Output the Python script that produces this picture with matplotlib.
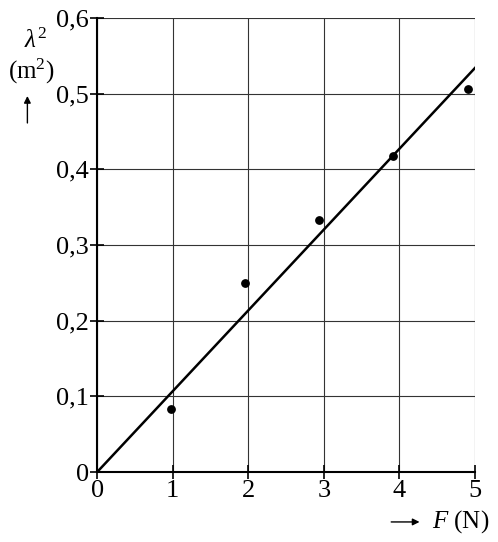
import matplotlib.pyplot as plt
import numpy as np

plt.rcParams["font.family"] = "serif"
plt.rcParams["font.serif"] = ["Liberation Serif", "DejaVu Serif"]
plt.rcParams["mathtext.fontset"] = "custom"
plt.rcParams["mathtext.rm"] = "Liberation Serif"
plt.rcParams["mathtext.it"] = "Liberation Serif:italic"

# measured points
force = [0.98, 1.96, 2.94, 3.92, 4.91]
lambda_sq = [0.083, 0.250, 0.333, 0.417, 0.506]

# fitted line
fit_x = [0, 5]
fit_y = [0, 0.534]

x_ticks = [0, 1, 2, 3, 4, 5]
y_ticks = [0, 0.1, 0.2, 0.3, 0.4, 0.5, 0.6]
y_labels = ["0", "0,1", "0,2", "0,3", "0,4", "0,5", "0,6"]

fig = plt.figure(figsize=(4.98, 5.42), dpi=100)
ax = fig.add_axes([0.195, 0.129, 0.759, 0.838])

ax.plot(fit_x, fit_y, color="black", linewidth=1.8)
ax.scatter(force, lambda_sq, s=28, color="black", zorder=3)

ax.set_xlim(0, 5)
ax.set_ylim(0, 0.6)
ax.set_xticks(x_ticks)
ax.set_xticklabels([str(v) for v in x_ticks], fontfamily="Liberation Serif")
ax.set_yticks(y_ticks)
ax.set_yticklabels(y_labels, fontfamily="Liberation Serif")
ax.tick_params(direction="inout", length=10, width=1.2, labelsize=19, pad=1)
ax.grid(True, color="#333333", linewidth=0.8)
ax.set_axisbelow(True)

for side in ["top", "right"]:
    ax.spines[side].set_visible(False)
for side in ["left", "bottom"]:
    ax.spines[side].set_linewidth(1.5)

# axis labels
fig.text(0.072, 0.925, r"$\lambda^2$", fontsize=18, ha="center", va="center")
fig.text(0.062, 0.868, r"(m$^2$)", fontsize=18, ha="center", va="center")
fig.add_artist(plt.Annotation("", xy=(0.055, 0.828), xytext=(0.055, 0.768),
                              xycoords="figure fraction",
                              arrowprops=dict(arrowstyle="-|>", color="black",
                                              lw=1.0, mutation_scale=10)))
fig.add_artist(plt.Annotation("", xy=(0.848, 0.037), xytext=(0.78, 0.037),
                              xycoords="figure fraction",
                              arrowprops=dict(arrowstyle="-|>", color="black",
                                              lw=1.0, mutation_scale=10)))
fig.text(0.925, 0.037, r"$F$ (N)", fontsize=18, ha="center", va="center")

fig.savefig("out.png", dpi=100)
